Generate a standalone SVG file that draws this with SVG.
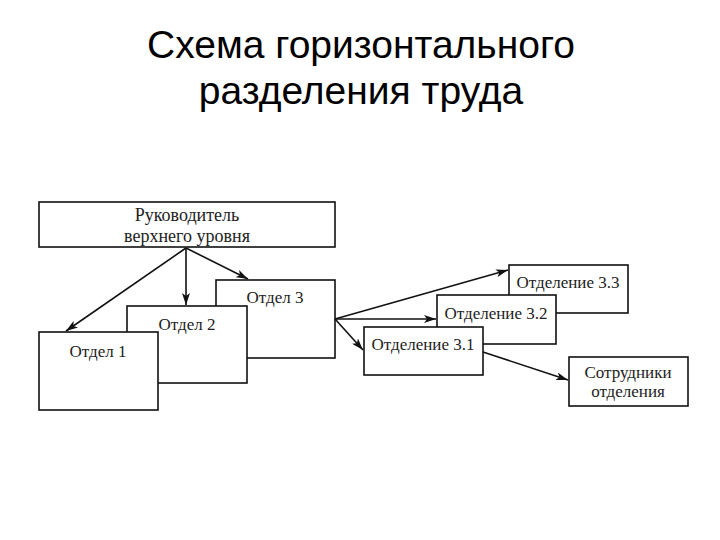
<svg xmlns="http://www.w3.org/2000/svg" width="720" height="540" viewBox="0 0 720 540">
<style>
.box{fill:#fff;stroke:#111;stroke-width:1.6}
.t{font-family:"Liberation Serif","DejaVu Serif",serif;font-size:17px;fill:#222;text-anchor:middle}
.tl{font-size:18px}
.title{font-family:"Liberation Sans",Arial,sans-serif;font-size:39px;fill:#000;text-anchor:middle}
.c{stroke:#111;stroke-width:1.6;fill:none;marker-end:url(#ah)}
</style>
<defs>
<marker id="ah" viewBox="0 0 12 8" refX="12" refY="4" markerWidth="12" markerHeight="8" markerUnits="userSpaceOnUse" orient="auto">
<path d="M0,0 L12,4 L0,8 L3,4 Z" fill="#111"/>
</marker>
</defs>
<rect width="720" height="540" fill="#fff"/>
<g id="title">
<text class="title" x="361" y="58">Схема горизонтального</text>
<text class="title" x="361" y="104">разделения труда</text>
</g>
<g id="top">
<rect class="box" x="39" y="202" width="296" height="45"/>
<text class="t tl" x="187" y="221">Руководитель</text>
<text class="t tl" x="187" y="242">верхнего уровня</text>
</g>
<g id="dept3">
<rect class="box" x="216" y="280" width="119" height="78"/>
<text class="t" x="275" y="303">Отдел 3</text>
</g>
<g id="dept2">
<rect class="box" x="127" y="306" width="120" height="77"/>
<text class="t" x="187" y="330">Отдел 2</text>
</g>
<g id="dept1">
<rect class="box" x="39" y="332" width="119" height="78"/>
<text class="t" x="98" y="357">Отдел 1</text>
</g>
<g id="div33">
<rect class="box" x="509" y="265" width="119" height="48"/>
<text class="t" x="568" y="288">Отделение 3.3</text>
</g>
<g id="div32">
<rect class="box" x="437" y="295" width="119" height="49"/>
<text class="t" x="496" y="319">Отделение 3.2</text>
</g>
<g id="div31">
<rect class="box" x="364" y="327" width="119" height="48"/>
<text class="t" x="423" y="350">Отделение 3.1</text>
</g>
<g id="staff">
<rect class="box" x="569" y="357" width="119" height="49"/>
<text class="t" x="628" y="378">Сотрудники</text>
<text class="t" x="628" y="397">отделения</text>
</g>
<g id="connectors">
<line class="c" x1="186" y1="248" x2="66" y2="331"/>
<line class="c" x1="186" y1="248" x2="186" y2="305"/>
<line class="c" x1="186" y1="248" x2="248" y2="279"/>
<line class="c" x1="335" y1="319" x2="508" y2="270"/>
<line class="c" x1="335" y1="319" x2="436" y2="319"/>
<line class="c" x1="335" y1="319" x2="363" y2="350"/>
<line class="c" x1="483" y1="352" x2="568" y2="380"/>
</g>
</svg>
